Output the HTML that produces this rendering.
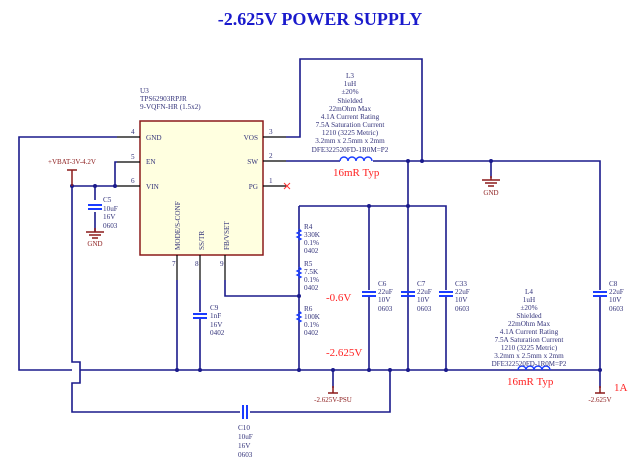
<!DOCTYPE html>
<html><head><style>
body{margin:0;background:#fff;}
svg{display:block;font-family:"Liberation Serif",serif;}
.w{stroke:#1a1a8c;stroke-width:1.6;fill:none;}
.p{stroke:#000;stroke-width:1.2;fill:none;}
.t{fill:#33337a;font-size:7.2px;}
.r{fill:#ff2222;font-size:11px;}
.d{fill:#1a1a8c;}
.g{stroke:#8b1a1a;stroke-width:1.5;fill:none;}
.gt{fill:#8b1a1a;font-size:7px;}
.c{stroke:#1a3cff;stroke-width:2;fill:none;}
</style></head><body>
<svg width="640" height="460" viewBox="0 0 640 460">
<text x="320" y="25" text-anchor="middle" style="font-size:18px;font-weight:bold;fill:#1a1acc">-2.625V POWER SUPPLY</text>

<rect x="140" y="121" width="123" height="134" fill="#ffffe0" stroke="#8b1a1a" stroke-width="1.5"/>
<text class="t" x="140" y="93">U3</text>
<text class="t" x="140" y="101">TPS62903RPJR</text>
<text class="t" x="140" y="109">9-VQFN-HR (1.5x2)</text>
<text class="t" x="146" y="140">GND</text>
<text class="t" x="146" y="164">EN</text>
<text class="t" x="146" y="189">VIN</text>
<text class="t" x="258" y="140" text-anchor="end">VOS</text>
<text class="t" x="258" y="164" text-anchor="end">SW</text>
<text class="t" x="258" y="189" text-anchor="end">PG</text>
<text class="t" transform="translate(180,250) rotate(-90)">MODE/S-CONF</text>
<text class="t" transform="translate(204,250) rotate(-90)">SS/TR</text>
<text class="t" transform="translate(229,250) rotate(-90)">FB/VSET</text>
<path class="p" d="M117 137H140M117 162H140M117 186H140M263 137H286M263 161H286M263 186H286M177 255V280M200 255V280M225 255V280"/>
<text class="t" x="131" y="134">4</text><text class="t" x="131" y="159">5</text><text class="t" x="131" y="183">6</text>
<text class="t" x="269" y="134">3</text><text class="t" x="269" y="158">2</text><text class="t" x="269" y="183">1</text>
<text class="t" x="172" y="266">7</text><text class="t" x="195" y="266">8</text><text class="t" x="220" y="266">9</text>
<path d="M284 183l6 6M290 183l-6 6" stroke="#ff3333" stroke-width="1"/>

<path class="w" d="M117 137H19V370H72M80 370H600"/>
<path class="w" d="M72 186H117M115 186V162H117M72 186V362H80V383H72V412H240M250 412H390V370"/>
<path class="w" d="M95 186V200M95 212V232"/>
<path class="w" d="M286 137H300V59H422V161M286 161H340M373 161H600V290M600 297V370"/>
<path class="w" d="M491 161V178"/>
<path class="w" d="M408 161V370M299 206H446V290M446 297V370M369 206V290M369 297V370M408 206V290"/>
<path class="w" d="M299 206V370M225 280V296H299M177 280V370M200 280V312M200 319V370"/>
<path class="w" d="M333 370V388M600 370V388"/>
<g class="d"><circle cx="72" cy="186" r="2"/><circle cx="95" cy="186" r="2"/><circle cx="115" cy="186" r="2"/>
<circle cx="408" cy="161" r="2"/><circle cx="422" cy="161" r="2"/><circle cx="491" cy="161" r="2"/>
<circle cx="369" cy="206" r="2"/><circle cx="408" cy="206" r="2"/><circle cx="299" cy="296" r="2"/>
<circle cx="177" cy="370" r="2"/><circle cx="200" cy="370" r="2"/><circle cx="299" cy="370" r="2"/><circle cx="333" cy="370" r="2"/>
<circle cx="369" cy="370" r="2"/><circle cx="390" cy="370" r="2"/><circle cx="408" cy="370" r="2"/><circle cx="446" cy="370" r="2"/><circle cx="600" cy="370" r="2"/></g>

<path class="c" d="M88 205H102M88 209H102"/>
<path class="c" d="M362 292H376M362 296H376M401 292H415M401 296H415M439 292H453M439 296H453M593 292H607M593 296H607M193 314H207M193 318H207"/>
<path class="c" d="M243 405V419M247 405V419"/>
<path class="c" style="stroke-width:1.3" d="M299 229l2 2-4 2 4 2-4 2 4 2-2 1M299 267l2 2-4 2 4 2-4 2 4 2-2 1M299 311l2 2-4 2 4 2-4 2 4 2-2 1"/>
<path class="c" style="stroke-width:1.4" d="M340 161a4 4 0 0 1 8 0a4 4 0 0 1 8 0a4 4 0 0 1 8 0a4 4 0 0 1 8 0"/>
<path class="c" style="stroke-width:1.4" d="M518 370a4 4 0 0 1 8 0a4 4 0 0 1 8 0a4 4 0 0 1 8 0a4 4 0 0 1 8 0"/>

<path class="g" d="M95 228V232M86 232H104M89 235H101M92 238H98"/>
<text class="gt" x="95" y="246" text-anchor="middle">GND</text>
<path class="g" d="M491 176V180M482 180H500M485 183H497M488 186H494"/>
<text class="gt" x="491" y="195" text-anchor="middle">GND</text>
<path class="g" d="M72 170V186M67 170H77"/>
<text class="gt" x="72" y="164" text-anchor="middle">+VBAT-3V-4.2V</text>
<path class="g" d="M333 386V393M328 393H338"/>
<text class="gt" x="333" y="402" text-anchor="middle">-2.625V-PSU</text>
<path class="g" d="M600 386V393M595 393H605"/>
<text class="gt" x="600" y="402" text-anchor="middle">-2.625V</text>

<text class="t" x="103" y="202">C5</text><text class="t" x="103" y="211">10uF</text><text class="t" x="103" y="219">16V</text><text class="t" x="103" y="228">0603</text>
<text class="t" x="210" y="310">C9</text><text class="t" x="210" y="318">1nF</text><text class="t" x="210" y="327">16V</text><text class="t" x="210" y="335">0402</text>
<text class="t" x="238" y="430">C10</text><text class="t" x="238" y="439">10uF</text><text class="t" x="238" y="448">16V</text><text class="t" x="238" y="457">0603</text>
<text class="t" x="304" y="229">R4</text><text class="t" x="304" y="237">330K</text><text class="t" x="304" y="245">0.1%</text><text class="t" x="304" y="253">0402</text>
<text class="t" x="304" y="266">R5</text><text class="t" x="304" y="274">7.5K</text><text class="t" x="304" y="282">0.1%</text><text class="t" x="304" y="290">0402</text>
<text class="t" x="304" y="311">R6</text><text class="t" x="304" y="319">100K</text><text class="t" x="304" y="327">0.1%</text><text class="t" x="304" y="335">0402</text>
<g class="t"><text x="378" y="286">C6</text><text x="378" y="294">22uF</text><text x="378" y="302">10V</text><text x="378" y="311">0603</text>
<text x="417" y="286">C7</text><text x="417" y="294">22uF</text><text x="417" y="302">10V</text><text x="417" y="311">0603</text>
<text x="455" y="286">C33</text><text x="455" y="294">22uF</text><text x="455" y="302">10V</text><text x="455" y="311">0603</text>
<text x="609" y="286">C8</text><text x="609" y="294">22uF</text><text x="609" y="302">10V</text><text x="609" y="311">0603</text></g>
<g class="t" text-anchor="middle">
<text x="350" y="78">L3</text><text x="350" y="86">1uH</text><text x="350" y="94">±20%</text><text x="350" y="103">Shielded</text><text x="350" y="111">22mOhm Max</text><text x="350" y="119">4.1A Current Rating</text><text x="350" y="127">7.5A Saturation Current</text><text x="350" y="135">1210 (3225 Metric)</text><text x="350" y="143">3.2mm x 2.5mm x 2mm</text><text x="350" y="152">DFE322520FD-1R0M=P2</text>
<text x="529" y="294">L4</text><text x="529" y="302">1uH</text><text x="529" y="310">±20%</text><text x="529" y="318">Shielded</text><text x="529" y="326">22mOhm Max</text><text x="529" y="334">4.1A Current Rating</text><text x="529" y="342">7.5A Saturation Current</text><text x="529" y="350">1210 (3225 Metric)</text><text x="529" y="358">3.2mm x 2.5mm x 2mm</text><text x="529" y="366" style="font-size:7px">DFE322520FD-1R0M=P2</text></g>
<text class="r" x="333" y="176">16mR Typ</text>
<text class="r" x="507" y="385">16mR Typ</text>
<text class="r" x="326" y="301">-0.6V</text>
<text class="r" x="326" y="356">-2.625V</text>
<text class="r" x="614" y="391">1A</text>
</svg>
</body></html>
